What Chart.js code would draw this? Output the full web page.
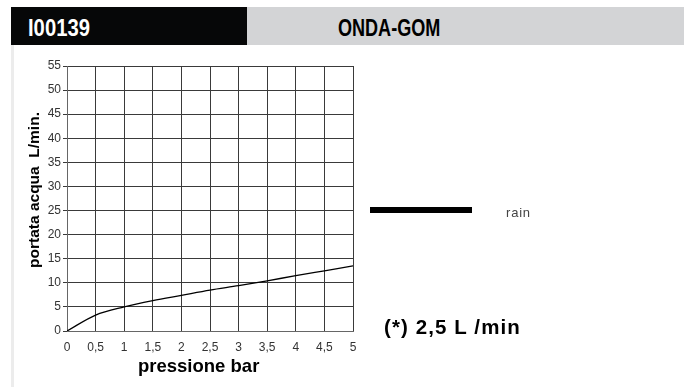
<!DOCTYPE html>
<html>
<head>
<meta charset="utf-8">
<script src="https://cdn.jsdelivr.net/npm/chart.js@4"></script>
<style>
    html, body { margin: 0; padding: 0; background: #fff; }
    body { width: 684px; height: 387px; position: relative; overflow: hidden; font-family: "Liberation Sans", Arial, sans-serif; }
    #wrap { position: absolute; left: 0; top: 0; width: 684px; height: 387px; }
    .hdr-left { position: absolute; left: 11px; top: 7px; width: 236px; height: 38px; background: #060708; }
    .hdr-right { position: absolute; left: 247px; top: 7px; width: 437px; height: 38px; background: #d3d4d6; }
    .hdr-text { position: absolute; top: 17px; height: 23px; line-height: 23px; font-weight: bold; font-size: 23px; transform-origin: 0 50%; white-space: nowrap; }
    .side { position: absolute; left: 11px; top: 45px; width: 3px; height: 342px; background: #ececec; }
    .x-title { position: absolute; left: 138px; top: 357px; font-size: 18.5px; line-height: 18.5px; font-weight: bold; color: #000; white-space: nowrap; }
    .y-title { position: absolute; left: -66px; top: 182px; width: 200px; height: 16px; line-height: 16px; text-align: center; font-size: 15.5px; font-weight: bold; color: #000; white-space: pre; transform: rotate(-90deg); }
    .leg-line { position: absolute; left: 370px; top: 207px; width: 102px; height: 6px; background: #000; }
    .leg-text { position: absolute; left: 506px; top: 205px; font-size: 13px; letter-spacing: 0.8px; color: #444; }
    .note { position: absolute; left: 384px; top: 315px; font-size: 20.5px; letter-spacing: 1.1px; font-weight: bold; color: #000; white-space: nowrap; }
</style>
</head>
<body>
<div class="hdr-left"></div>
<div class="hdr-right"></div>
<div class="hdr-text" style="left:28px;color:#fff;transform:scaleX(0.88);">I00139</div>
<div class="hdr-text" style="left:338px;color:#000;transform:scaleX(0.785);">ONDA-GOM</div>
<div class="side"></div>
<div id="wrap"><canvas id="chart" width="684" height="387"></canvas></div>
<div class="x-title" id="x-title"></div>
<div class="y-title" id="y-title"></div>
<div class="leg-line"></div>
<div class="leg-text" id="leg-text"></div>
<div class="note">(*) 2,5 L /min</div>
<script>
// pressione (bar) -> portata acqua (L/min)
const pressure = [0, 0.5, 1, 1.5, 2, 2.5, 3, 3.5, 4, 4.5, 5];
const flowRain = [0, 3.3, 5, 6.3, 7.4, 8.5, 9.4, 10.4, 11.5, 12.5, 13.5];

const seriesLabel = 'rain';
const xTitle = 'pressione bar';
const yTitle = 'portata acqua  L/min.';

const gridColor = '#3a3a3a';
const tickFont = { family: '"Liberation Sans", Arial, sans-serif', size: 12 };

document.getElementById('x-title').textContent = xTitle;
document.getElementById('y-title').textContent = yTitle;
document.getElementById('leg-text').textContent = seriesLabel;

function commaNum(v) {
    return String(v).replace('.', ',');
}

new Chart(document.getElementById('chart').getContext('2d'), {
    type: 'line',
    data: {
        datasets: [{
            label: seriesLabel,
            data: pressure.map((p, i) => ({ x: p, y: flowRain[i] })),
            borderColor: '#000',
            borderWidth: 1.3,
            pointRadius: 0,
            cubicInterpolationMode: 'monotone',
            fill: false
        }]
    },
    options: {
        responsive: false,
        animation: false,
        layout: { padding: { left: 0, top: 66, right: 331, bottom: 0 } },
        plugins: { legend: { display: false }, tooltip: { enabled: false } },
        scales: {
            x: {
                type: 'linear',
                min: 0,
                max: 5,
                afterFit: s => { s.height = 56; },
                grid: { color: gridColor, drawTicks: false },
                border: { color: '#666' },
                ticks: {
                    stepSize: 0.5,
                    padding: 9,
                    color: '#333',
                    font: tickFont,
                    maxRotation: 0,
                    callback: v => commaNum(v)
                }
            },
            y: {
                min: 0,
                max: 55,
                afterFit: s => { s.width = 67; },
                grid: { color: gridColor, tickLength: 4 },
                border: { color: '#666' },
                ticks: {
                    stepSize: 5,
                    padding: 2,
                    color: '#333',
                    font: tickFont
                }
            }
        }
    }
});
</script>
</body>
</html>
